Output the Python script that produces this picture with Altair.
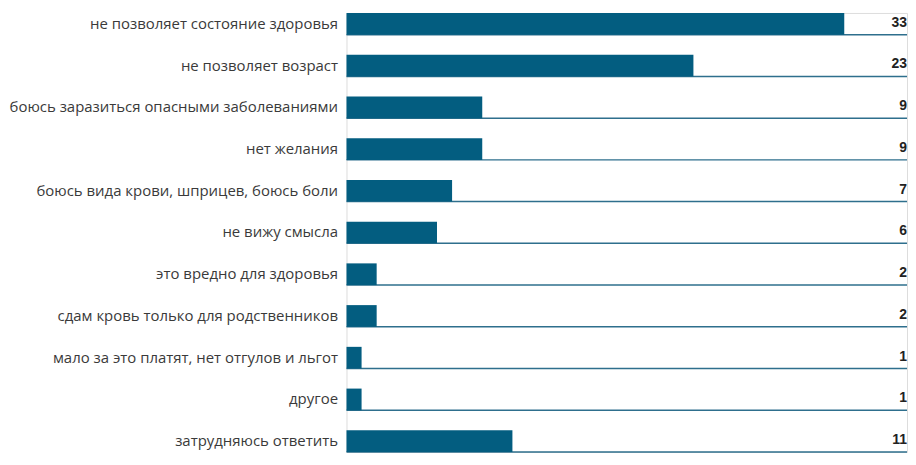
import altair as alt
import pandas as pd

categories = [
    "не позволяет состояние здоровья",
    "не позволяет возраст",
    "боюсь заразиться опасными заболеваниями",
    "нет желания",
    "боюсь вида крови, шприцев, боюсь боли",
    "не вижу смысла",
    "это вредно для здоровья",
    "сдам кровь только для родственников",
    "мало за это платят, нет отгулов и льгот",
    "другое",
    "затрудняюсь ответить",
]
values = [33, 23, 9, 9, 7, 6, 2, 2, 1, 1, 11]

df = pd.DataFrame({"cat": categories, "val": values})

W = 563
H = 441
XMAX = 37.16

y_enc = alt.Y(
    "cat:N",
    sort=categories,
    scale=alt.Scale(paddingInner=0.48, paddingOuter=0),
    axis=alt.Axis(
        title=None, domain=False, ticks=False, labelPadding=9,
        labelFont="Open Sans", labelFontSize=15, labelColor="#3a3a3a",
        labelLimit=400, minExtent=337, maxExtent=337,
    ),
)

x_scale = alt.Scale(domain=[0, XMAX], nice=False, zero=True)

bars = alt.Chart(df).mark_bar(color="#035d80").encode(
    y=y_enc,
    x=alt.X("val:Q", scale=x_scale, axis=None),
)

rules = alt.Chart(df).mark_rule(color="#2e6f8d", strokeWidth=1.5).encode(
    y=alt.Y("cat:N", sort=categories, bandPosition=1),
    x=alt.value(0),
    x2=alt.value(W),
)

labels = alt.Chart(df).mark_text(
    align="right", baseline="alphabetic", dy=-8,
    font="Liberation Sans", fontWeight="bold", fontSize=14, color="#222222",
).encode(
    y=alt.Y("cat:N", sort=categories, bandPosition=1),
    x=alt.value(W),
    text=alt.Text("val:Q"),
)

chart = (
    alt.layer(rules, bars, labels)
    .properties(width=W, height=H, padding={"left": 0, "top": 4, "right": 0, "bottom": 0})
    .configure_view(stroke=None)
    .configure(background="white")
)

chart.save("out.html", embed_options={"renderer": "svg", "actions": False})
